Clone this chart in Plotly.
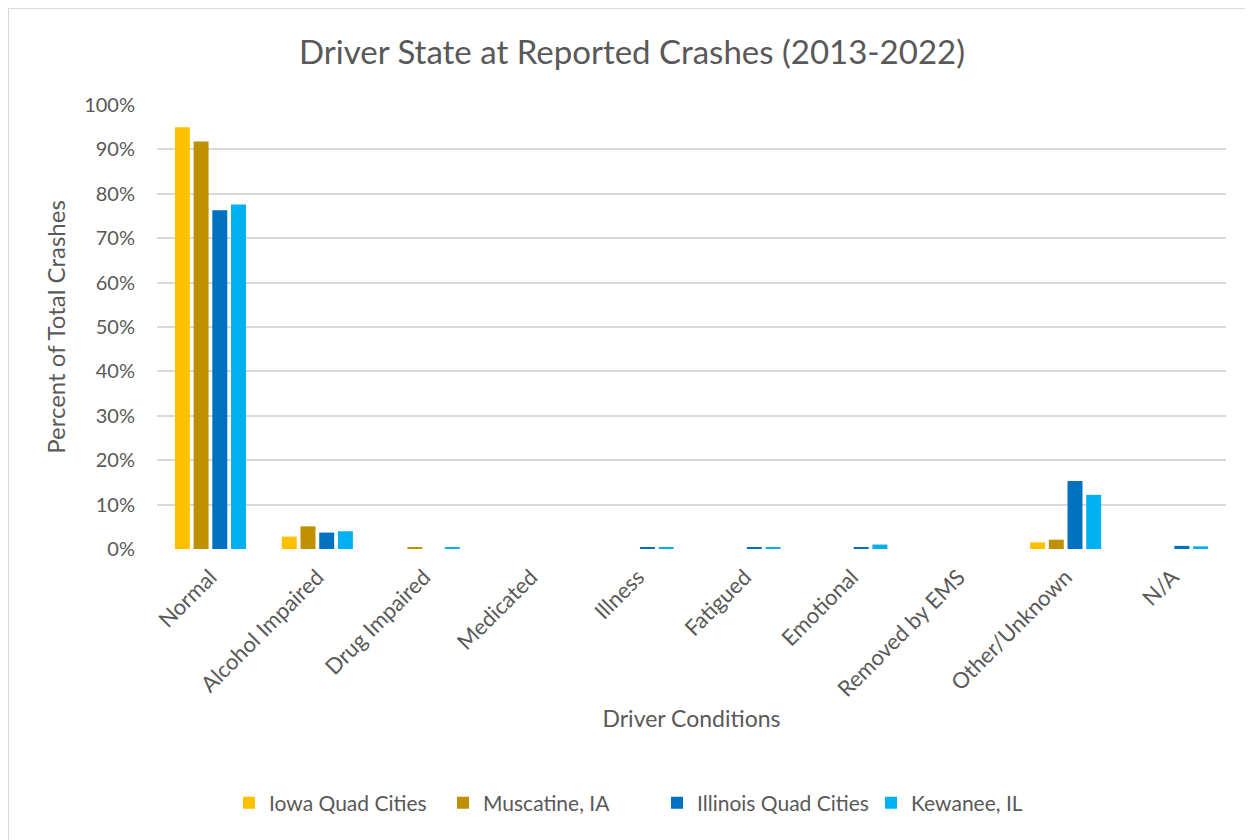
import plotly.graph_objects as go

categories = ["Normal", "Alcohol Impaired", "Drug Impaired", "Medicated", "Illness",
              "Fatigued", "Emotional", "Removed by EMS", "Other/Unknown", "N/A"]
iowa_qc = [0.950, 0.028, 0.000, 0.000, 0.000, 0.000, 0.000, 0.000, 0.015, 0.000]
muscatine = [0.918, 0.051, 0.003, 0.000, 0.000, 0.000, 0.000, 0.000, 0.021, 0.000]
illinois_qc = [0.763, 0.037, 0.000, 0.000, 0.003, 0.003, 0.003, 0.000, 0.153, 0.007]
kewanee = [0.776, 0.040, 0.003, 0.000, 0.003, 0.003, 0.010, 0.000, 0.122, 0.006]
series_names = ["Iowa Quad Cities", "Muscatine, IA", "Illinois Quad Cities", "Kewanee, IL"]
series_colors = ["#FFC000", "#BF9000", "#0070C0", "#00B0F0"]
y_ticks = [0, 0.1, 0.2, 0.3, 0.4, 0.5, 0.6, 0.7, 0.8, 0.9, 1.0]
y_tick_labels = ["0%", "10%", "20%", "30%", "40%", "50%", "60%", "70%", "80%", "90%", "100%"]

FONT = "Lato, 'Open Sans', sans-serif"
GRAY = "#595959"
OFF = 8  # page body margin

fig = go.Figure()
for name, vals, col in zip(series_names, [iowa_qc, muscatine, illinois_qc, kewanee], series_colors):
    fig.add_trace(go.Bar(x=categories, y=vals, name=name, marker_color=col,
                         marker_line_width=0))

W, H = 1253 - OFF, 840 - OFF
L, R, T = 157 - OFF, 1253 - 1226, 105 - OFF
B = H - (549 - OFF)
pw, ph = W - L - R, H - T - B

def px_x(x):
    return (x - OFF - L) / pw

def px_y(y):
    return (H - B - (y - OFF)) / ph

fig.update_layout(
    width=W, height=H,
    margin=dict(l=L, r=R, t=T, b=B, autoexpand=False),
    paper_bgcolor="white", plot_bgcolor="white",
    font=dict(family=FONT, color=GRAY, size=20),
    title=dict(text="Driver State at Reported Crashes (2013-2022)", x=px_x(632), xref="paper",
               xanchor="center", y=1 - (52 - OFF) / H, yanchor="middle",
               font=dict(size=33, color=GRAY, family=FONT)),
    barmode="group", bargap=0.3, bargroupgap=0.2,
    showlegend=True,
    legend=dict(orientation="h", x=px_x(229), xanchor="left", y=px_y(803), yanchor="middle",
                font=dict(size=21, color=GRAY), itemwidth=30, traceorder="normal",
                entrywidth=169),
    xaxis=dict(tickangle=-45, showgrid=False, showline=False, ticks="",
               tickfont=dict(size=22, color=GRAY), ticklabelstandoff=10,
               title=dict(text="Driver Conditions", font=dict(size=23, color=GRAY), standoff=10)),
    yaxis=dict(range=[0, 1], tickvals=y_ticks, ticktext=y_tick_labels,
               gridcolor="#D9D9D9", gridwidth=2, zeroline=False, showline=False, ticks="",
               tickfont=dict(size=20, color=GRAY), ticklabelstandoff=21,
               title=dict(text="Percent of Total Crashes", font=dict(size=24, color=GRAY), standoff=11)),
    shapes=[
        dict(type="line", xref="paper", yref="paper", x0=px_x(7), x1=px_x(1260), y0=px_y(8.5), y1=px_y(8.5),
             line=dict(color="#D9D9D9", width=1)),
        dict(type="line", xref="paper", yref="paper", x0=px_x(8.5), x1=px_x(8.5), y0=px_y(8), y1=px_y(850),
             line=dict(color="#D9D9D9", width=1)),
    ],
)

fig.write_html("out.html")
